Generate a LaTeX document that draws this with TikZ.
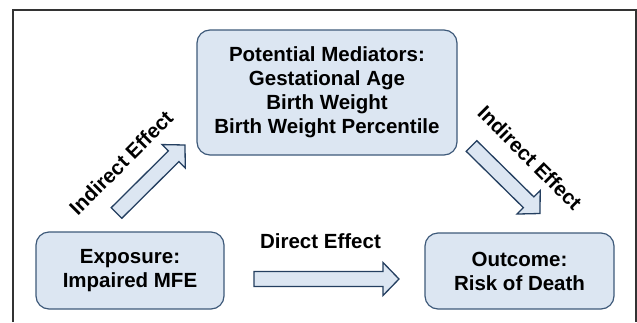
\documentclass[tikz,border=0pt]{standalone}
\usepackage{fontspec}
\setmainfont{Liberation Sans}
\usetikzlibrary{calc}
\definecolor{boxfill}{HTML}{DCE6F2}
\definecolor{boxline}{HTML}{3E5A7A}
\definecolor{arrline}{HTML}{243F60}
\definecolor{framecol}{HTML}{333333}
\newcommand{\blockarrow}[2]{%
  \coordinate (hb) at ($(#2)!16pt!(#1)$);
  \draw[arr] ($(#1)!7.5pt!90:(#2)$) -- ($(hb)!7.5pt!-90:(#1)$) -- ($(hb)!16.5pt!-90:(#1)$) -- (#2)
    -- ($(hb)!16.5pt!90:(#1)$) -- ($(hb)!7.5pt!90:(#1)$) -- ($(#1)!7.5pt!-90:(#2)$) -- cycle;}
\begin{document}
\begin{tikzpicture}[x=1pt,y=-1pt,
  every node/.style={font=\fontsize{20.5}{24}\selectfont\bfseries, text=black},
  box/.style={draw=boxline, fill=boxfill, line width=1.2pt, rounded corners=13pt, align=center, inner sep=0pt},
  arr/.style={draw=arrline, fill=boxfill, line width=1.3pt, line join=miter}]
\useasboundingbox (0,0) rectangle (637,322);
\draw[framecol, line width=1.5pt] (13,322) -- (13,10) -- (636,10) -- (636,322);
\node[box, minimum width=260pt, minimum height=125pt] (med) at (327,92.5)
  {Potential Mediators:\\Gestational Age\\Birth Weight\\Birth Weight Percentile};
\node[box, minimum width=188pt, minimum height=77pt] (exp) at (130,270.5) {Exposure:\\Impaired MFE};
\node[box, minimum width=189pt, minimum height=76pt] (out) at (519.5,271) {Outcome:\\Risk of Death};
\coordinate (d1) at (254,279); \coordinate (d2) at (399,279);
\coordinate (l1) at (116.5,213); \coordinate (l2) at (185,145);
\coordinate (r1) at (471.5,146); \coordinate (r2) at (540,213.5);
\blockarrow{d1}{d2}
\blockarrow{l1}{l2}
\blockarrow{r1}{r2}
\node[rotate=45] (li) at (121,163) {Indirect Effect};
\node[rotate=-45] (ri) at (530,158) {Indirect Effect};
\node (de) at (320.5,241.5) {Direct Effect};
\end{tikzpicture}
\end{document}
